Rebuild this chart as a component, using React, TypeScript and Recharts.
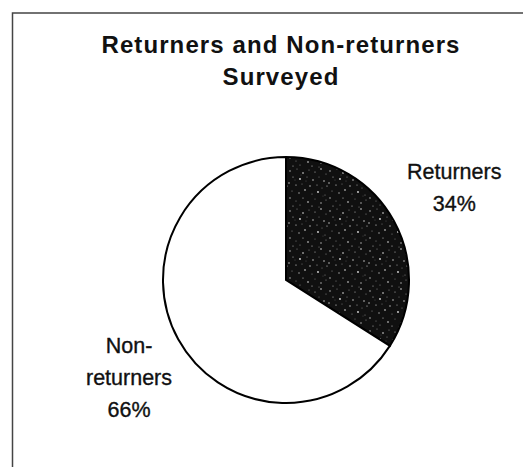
import React from "react";
import { PieChart, Pie, Cell, Customized } from "recharts";

const categories = ["Returners", "Non-returners"];
const values = [34, 66];
const labelLines = [["Returners", "34%"], ["Non-", "returners", "66%"]];
const titleLines = ["Returners and Non-returners", "Surveyed"];

const data = categories.map((name, i) => ({ name, value: values[i] }));

const sliceFills = ["url(#speckle)", "#ffffff"];
const labelRadius = [192, 186];
const labelNudge = [
  [0, 0],
  [6, 8],
];

// decorative speckle texture for the dark slice: [x, y, r, opacity]
const speckleDots = [
  [2, 3, 0.7, 0.8], [9, 1, 0.5, 0.6], [15, 5, 0.8, 0.9], [21, 2, 0.6, 0.5],
  [27, 4, 0.6, 0.7], [33, 1, 0.8, 0.85], [38, 6, 0.5, 0.6],
  [5, 9, 0.6, 0.7], [12, 11, 0.9, 0.85], [19, 9, 0.5, 0.6], [25, 12, 0.7, 0.9],
  [31, 9, 0.5, 0.5], [36, 13, 0.8, 0.75], [1, 15, 0.8, 0.7], [8, 17, 0.6, 0.9],
  [14, 16, 0.5, 0.5], [22, 18, 0.7, 0.8], [29, 17, 0.6, 0.65], [34, 20, 0.5, 0.55],
  [39, 18, 0.6, 0.8], [4, 23, 0.5, 0.6], [11, 25, 0.7, 0.7], [17, 22, 0.8, 0.9],
  [24, 26, 0.5, 0.6], [30, 24, 0.9, 0.85], [37, 27, 0.5, 0.6], [2, 30, 0.7, 0.8],
  [8, 33, 0.5, 0.55], [15, 30, 0.6, 0.75], [20, 34, 0.8, 0.9], [27, 31, 0.5, 0.5],
  [33, 35, 0.7, 0.8], [38, 32, 0.5, 0.6], [5, 38, 0.6, 0.7], [12, 37, 0.5, 0.6],
  [24, 38, 0.6, 0.75], [31, 39, 0.5, 0.55], [7, 12, 0.4, 0.5], [18, 13, 0.4, 0.5],
  [13, 7, 0.4, 0.4], [35, 28, 0.4, 0.45],
];

const FONT = "'Liberation Sans', Arial, Helvetica, sans-serif";
const RAD = Math.PI / 180;

const renderLabel = (props: any) => {
  const { cx, cy, midAngle, index } = props;
  const r = labelRadius[index];
  const x = cx + r * Math.cos(-midAngle * RAD) + labelNudge[index][0];
  const y = cy + r * Math.sin(-midAngle * RAD) + labelNudge[index][1];
  const lines = labelLines[index];
  const lh = 32;
  const first = y - ((lines.length - 1) * lh) / 2 + 7.5;
  return (
    <text
      key={`lbl-${index}`}
      x={x}
      y={first}
      textAnchor="middle"
      fontFamily={FONT}
      fontSize={21.5}
      fill="#111"
      stroke="#111"
      strokeWidth={0.35}
    >
      {lines.map((t, i) => (
        <tspan key={i} x={x} y={first + i * lh}>
          {t}
        </tspan>
      ))}
    </text>
  );
};

const Frame = () => (
  <g>
    <path d="M 4.5 459 L 4.5 5 L 515 5" fill="none" stroke="#444" strokeWidth={1.5} />
    <text
      x={273}
      y={45}
      textAnchor="middle"
      fontFamily={FONT}
      fontSize={24}
      fontWeight="bold"
      letterSpacing={1.1}
      fill="#111"
    >
      <tspan x={273} y={45}>{titleLines[0]}</tspan>
      <tspan x={273} y={77}>{titleLines[1]}</tspan>
    </text>
  </g>
);

export default function App() {
  return (
    <div style={{ width: 515, height: 459, background: "#ffffff" }}>
      <PieChart width={515} height={459} margin={{ top: 0, right: 0, bottom: 0, left: 0 }}>
        <defs>
          <pattern id="speckle" width={40} height={40} patternUnits="userSpaceOnUse">
            <rect x={0} y={0} width={40} height={40} fill="#101010" />
            {speckleDots.map(([x, y, r, o], i) => (
              <circle key={i} cx={x} cy={y} r={r} fill="#ffffff" opacity={o} />
            ))}
          </pattern>
        </defs>
        <Customized component={Frame} />
        <Pie
          data={data}
          dataKey="value"
          nameKey="name"
          cx={278}
          cy={272}
          outerRadius={123}
          startAngle={90}
          endAngle={-270}
          stroke="#000"
          strokeWidth={2}
          label={renderLabel}
          labelLine={false}
          isAnimationActive={false}
        >
          {data.map((d, i) => (
            <Cell key={d.name} fill={sliceFills[i]} />
          ))}
        </Pie>
      </PieChart>
    </div>
  );
}
